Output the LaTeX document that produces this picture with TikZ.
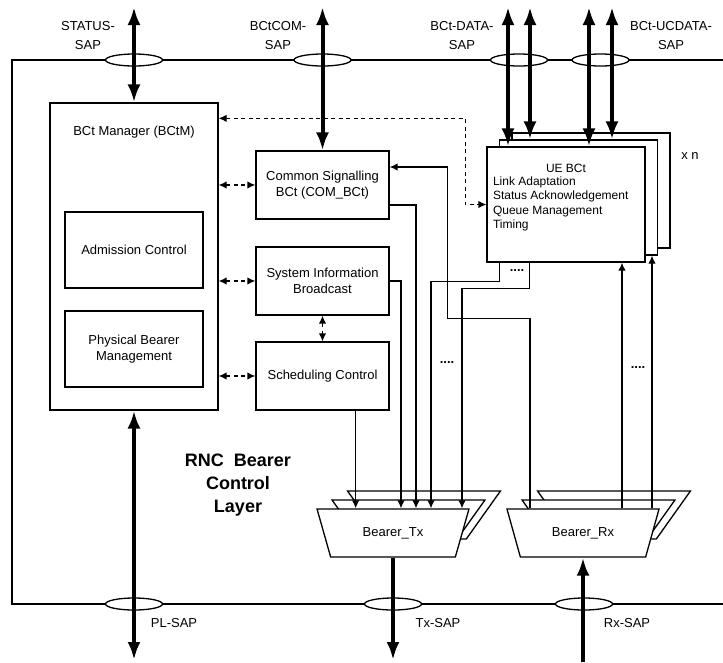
\documentclass[tikz,border=0pt]{standalone}
\usepackage{fontspec}
\setmainfont{Liberation Sans}
\usetikzlibrary{positioning, arrows.meta, shapes.geometric}

\begin{document}
\begin{tikzpicture}[x=1pt, y=-1pt,
      every node/.style={font=\fontsize{13}{16}\selectfont},
      box/.style={draw, line width=1.3pt, fill=white, inner sep=2pt, align=center},
      sap/.style={draw, ellipse, line width=1.3pt, fill=white,
        minimum width=57pt, minimum height=12pt, inner sep=0pt},
      bearer/.style={draw, line width=1.3pt, fill=white, trapezium,
        trapezium stretches=true, trapezium angle=68, shape border rotate=180,
        minimum width=153pt, minimum height=48pt},
      saplabel/.style={align=center, font=\fontsize{13}{19}\selectfont},
      flow/.style={line width=1.3pt, -{Latex[length=8pt,width=7.5pt]}},
      ctrl/.style={line width=1.3pt, dash pattern=on 4pt off 3.5pt,
        {Latex[length=8pt,width=7.5pt]}-{Latex[length=8pt,width=7.5pt]}},
      data/.style={line width=4pt,
        {Latex[length=18pt,width=13pt]}-{Latex[length=18pt,width=13pt]}},
      bigflow/.style={line width=4pt, -{Latex[length=18pt,width=13pt]}},
      dots/.style={font=\fontsize{13}{15}\selectfont\bfseries}]

    \useasboundingbox (0,0) rectangle (723,662);

    % Layer frame and SAPs
    \draw[line width=1.3pt] (723,60) -- (12,60) -- (12,604) -- (723,604);
    \node[sap] (statussap) at (134,60) {};
    \node[sap] (comsap) at (322.5,60) {};
    \node[sap] (datasap) at (519,60) {};
    \node[sap] (ucdatasap) at (600.5,60) {};
    \node[sap] (plsap) at (134,604) {};
    \node[sap] (txsap) at (393,604) {};
    \node[sap] (rxsap) at (584,604) {};

    \node[saplabel] (statuslbl) at (88,36) {STATUS-\\SAP};
    \node[saplabel] (comlbl) at (278,36) {BCtCOM-\\SAP};
    \node[saplabel] (datalbl) at (462,36) {BCt-DATA-\\SAP};
    \node[saplabel] (ucdatalbl) at (671,36) {BCt-UCDATA-\\SAP};
    \node (pllbl) at (174,623) {PL-SAP};
    \node (txlbl) at (438,623) {Tx-SAP};
    \node (rxlbl) at (627,623) {Rx-SAP};

    \coordinate (top) at (0,7);
    \coordinate (bottom) at (0,660);
    \coordinate (rxbottom) at (0,662);

    % BCt Manager
    \node[box, minimum width=168pt, minimum height=307pt] (bctm) at (134,256.5) {};
    \node (bctmlbl) at (134,132) {BCt Manager (BCtM)};
    \node[box, minimum width=138pt, minimum height=76pt] (adm) at (134,250)
      {Admission Control};
    \node[box, minimum width=138pt, minimum height=76pt] (pbm) at (134,349)
      {Physical Bearer\\Management};

    % Common BCts
    \node[box, minimum width=133pt, minimum height=68pt] (com) at (322.5,185)
      {Common Signalling\\BCt (COM\_BCt)};
    \node[box, minimum width=133pt, minimum height=68pt] (sib) at (322.5,281)
      {System Information\\Broadcast};
    \node[box, minimum width=133pt, minimum height=68pt] (sc) at (322.5,376)
      {Scheduling Control};

    % UE BCts (x n)
    \node[box, minimum width=158pt, minimum height=115pt] (ue3) at (591,190.5) {};
    \node[box, minimum width=158pt, minimum height=115pt] (ue2) at (578.5,197.5) {};
    \node[box, minimum width=158pt, minimum height=115pt] (ue) at (566,204.5) {};
    \node[font=\fontsize{12}{14.5}\selectfont] (uetitle) at (566,168) {UE BCt};
    \node[anchor=west, align=left, font=\fontsize{12}{14.5}\selectfont] (uetext)
      at (489.5,204) {Link Adaptation\\Status Acknowledgement\\Queue Management\\Timing};
    \node (xn) at (690,156) {x n};

    % Bearers
    \node[bearer] (tx3) at (424,515) {};
    \node[bearer] (tx2) at (408.5,524) {};
    \node[bearer] (tx) at (393,533) {Bearer\_Tx};
    \node[bearer] (rx3) at (614,515) {};
    \node[bearer] (rx2) at (598.5,524) {};
    \node[bearer] (rx) at (583,533) {Bearer\_Rx};

    \node[font=\fontsize{18}{23}\selectfont\bfseries, align=center] (layer)
      at (238,485) {RNC\ \ Bearer\\Control\\Layer};

    % SAP flows
    \coordinate (d1) at ([xshift=-11pt]datasap.center);
    \coordinate (d2) at ([xshift=11pt]datasap.center);
    \coordinate (u1) at ([xshift=-11.5pt]ucdatasap.center);
    \coordinate (u2) at ([xshift=11.5pt]ucdatasap.center);
    \draw[data] (statussap |- top) -- (bctm.north);
    \draw[data] (comsap |- top) -- (com.north);
    \draw[data] (d1 |- top) -- (d1 |- ue.north);
    \draw[data] (d2 |- top) -- (d2 |- ue2.north);
    \draw[data] (u1 |- top) -- (u1 |- ue.north);
    \draw[data] (u2 |- top) -- (u2 |- ue2.north);
    \draw[data] (bctm.south) -- (bctm.south |- bottom);
    \draw[bigflow] (tx.south) -- (tx.south |- bottom);
    \draw[bigflow] (rx.south |- rxbottom) -- (rx.south);

    % Control (dashed)
    \draw[ctrl] (bctm.east |- com.west) -- (com.west);
    \draw[ctrl] (bctm.east |- sib.west) -- (sib.west);
    \draw[ctrl] (bctm.east |- sc.west) -- (sc.west);
    \draw[ctrl] (sib.south) -- (sc.north);
    \draw[ctrl] ([yshift=-16pt]bctm.north east) -| ([xshift=-21pt]ue.west) -- (ue.west);

    % Data towards Bearer_Tx
    \coordinate (scout) at ([xshift=-34pt]sc.south east);
    \draw[flow] (scout) -- (scout |- tx.north);
    \draw[flow] (sib.east) -| ([xshift=8pt]tx.north);
    \draw[flow] ([yshift=-20pt]com.east) -| ([xshift=23pt]tx.north);
    \draw[flow] ([xshift=13pt]ue.south west) -- ++(0,19) -| ([xshift=38pt]tx.north);
    \draw[flow] ([xshift=43pt]ue.south west) -- ++(0,26) -| ([xshift=69pt]tx.north);

    % Data from Bearer_Rx
    \coordinate (rxa) at ([xshift=39pt]rx.north);
    \coordinate (rxb) at ([xshift=69pt]rx.north);
    \draw[flow] ([xshift=-53pt]rx.north) -- ++(0,-190)
      -| ([xshift=58pt,yshift=18pt]com.east) -- ([yshift=18pt]com.east);
    \draw[flow] (rxa) -- (rxa |- ue.south);
    \draw[flow] (rxb) -- (rxb |- ue2.south);

    \node[dots] (uedots) at (517,271) {....};
    \node[dots] (txdots) at (447,363) {....};
    \node[dots] (rxdots) at (638,368) {....};
  \end{tikzpicture}
\end{document}
